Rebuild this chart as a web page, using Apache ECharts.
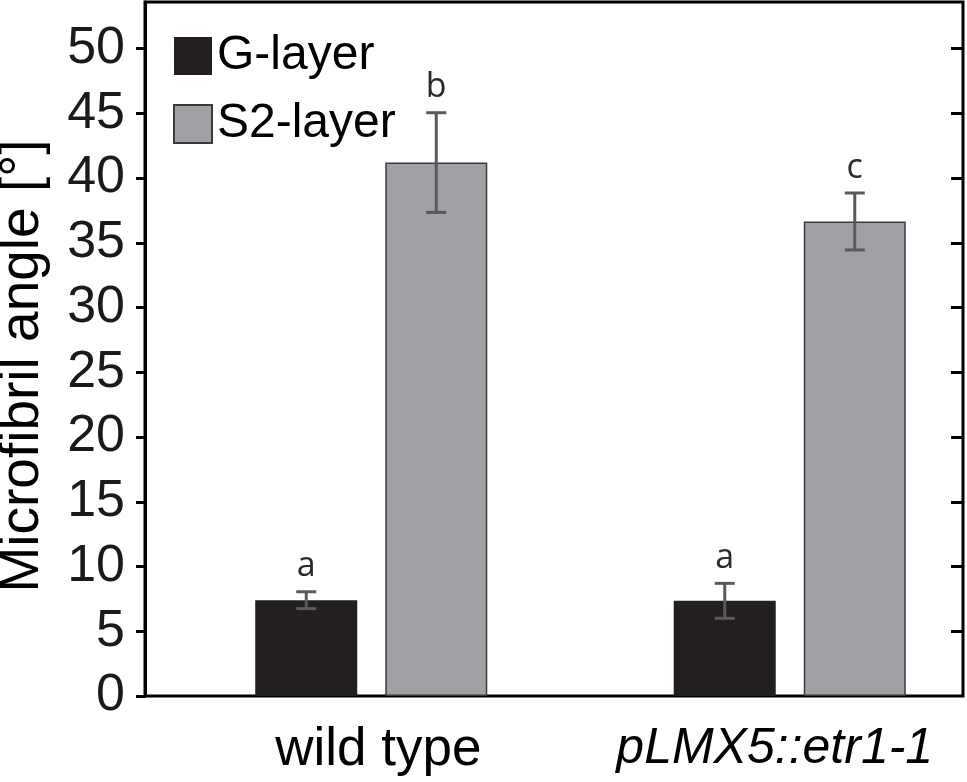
<!DOCTYPE html>
<html>
<head>
<meta charset="utf-8">
<script src="https://cdn.jsdelivr.net/npm/echarts@6/dist/echarts.min.js"></script>
<style>
  html, body { margin: 0; padding: 0; background: #fff; }
  #main { width: 967px; height: 782px; }
</style>
</head>
<body>
<div id="main"></div>
<script type="text/javascript">
  // data
  var categories = ['wild type', 'pLMX5::etr1-1'];
  var gMean = [7.4, 7.35];
  var gSd = [0.65, 1.35];
  var s2Mean = [41.2, 36.65];
  var s2Sd = [3.85, 2.2];
  var gLetters = ['a', 'a'];
  var s2Letters = ['b', 'c'];
  var yTicks = [0, 5, 10, 15, 20, 25, 30, 35, 40, 45, 50];

  var yMax = 53.6;
  var barW = 102, barGapPx = 28;
  var half = (barW + barGapPx) / 2;
  var font = 'Liberation Sans, Arial, sans-serif';

  var myChart = echarts.init(document.getElementById('main'));

  function errSeries(name, means, sds, letters, shift) {
    return {
      name: name + '-err',
      type: 'custom',
      xAxisIndex: 1,
      yAxisIndex: 2,
      z: 5,
      silent: true,
      data: means.map(function (m, i) { return [i, m, sds[i]]; }),
      renderItem: function (params, api) {
        var i = api.value(0), m = api.value(1), s = api.value(2);
        var top = api.coord([i, m + s]);
        var bot = api.coord([i, m - s]);
        var x = top[0] + shift;
        var st = { stroke: '#5a5a5a', lineWidth: 3 };
        return {
          type: 'group',
          children: [
            { type: 'line', shape: { x1: x, y1: top[1], x2: x, y2: bot[1] }, style: st },
            { type: 'line', shape: { x1: x - 10, y1: top[1], x2: x + 10, y2: top[1] }, style: st },
            { type: 'line', shape: { x1: x - 10, y1: bot[1], x2: x + 10, y2: bot[1] }, style: st },
            { type: 'text', x: x, y: top[1] - 8,
              style: { text: letters[params.dataIndex], fill: '#2a2a2a',
                font: '34px "Open Sans", sans-serif', align: 'center', verticalAlign: 'bottom' } }
          ]
        };
      }
    };
  }

  var option = {
    animation: false,
    backgroundColor: '#fff',
    grid: [
      { left: 145, right: 4, top: 2, bottom: 86, show: true, borderColor: '#000', borderWidth: 3,
        backgroundColor: 'transparent', outerBoundsMode: 'none', containLabel: false },
      { left: 162, right: -32, top: 2, bottom: 86, outerBoundsMode: 'none', containLabel: false }
    ],
    legend: {
      orient: 'vertical',
      left: 168,
      top: 27,
      itemWidth: 38,
      itemHeight: 38,
      itemGap: 20,
      icon: 'rect',
      data: ['G-layer', 'S2-layer'],
      textStyle: { fontFamily: font, fontSize: 48, color: '#000', padding: [0, 0, 0, 0] }
    },
    xAxis: [
      { type: 'value', gridIndex: 0, min: 0, max: 1, show: false },
      {
        type: 'category',
        gridIndex: 1,
        data: categories,
        axisLine: { show: false },
        axisTick: { show: false },
        axisLabel: {
          margin: 28,
          formatter: function (v, i) { return i === 1 ? '{it|' + v + '}' : '{n|' + v + '}'; },
          rich: {
            n: { fontFamily: font, fontSize: 53, color: '#000', padding: [0, 0, 0, 14] },
            it: { fontFamily: font, fontSize: 50, fontStyle: 'italic', color: '#000', padding: [0, 30, 0, 0] }
          }
        }
      }
    ],
    yAxis: [
      {
        type: 'value',
        gridIndex: 0,
        min: 0,
        max: yMax,
        interval: 5,
        splitLine: { show: false },
        axisLine: { show: true, lineStyle: { color: '#000', width: 3 } },
        axisTick: { show: true, length: 9, lineStyle: { color: '#000', width: 3 },
          customValues: yTicks },
        axisLabel: { margin: 20, fontFamily: font, fontSize: 52, color: '#1a1a1a',
          customValues: yTicks },
        name: 'Microfibril angle [°]',
        nameLocation: 'middle',
        nameGap: 95,
        nameTextStyle: { fontFamily: font, fontSize: 55, color: '#000', padding: [0, 34, 0, 0] }
      },
      {
        type: 'value',
        gridIndex: 0,
        min: 0,
        max: yMax,
        interval: 5,
        splitLine: { show: false },
        axisLine: { show: false },
        axisTick: { show: true, inside: true, length: 12, lineStyle: { color: '#000', width: 3 },
          customValues: yTicks.slice(1) },
        axisLabel: { show: false }
      },
      { type: 'value', gridIndex: 1, min: 0, max: yMax, show: false }
    ],
    series: [
      {
        name: 'G-layer',
        type: 'bar',
        xAxisIndex: 1,
        yAxisIndex: 2,
        barWidth: barW,
        barGap: (barGapPx / barW * 100).toFixed(1) + '%',
        data: gMean,
        itemStyle: { color: '#231f20', borderColor: '#231f20', borderWidth: 0 }
      },
      {
        name: 'S2-layer',
        type: 'bar',
        xAxisIndex: 1,
        yAxisIndex: 2,
        barWidth: barW,
        data: s2Mean,
        itemStyle: { color: '#a1a0a5', borderColor: '#3a3a3a', borderWidth: 1.5 }
      },
      errSeries('G-layer', gMean, gSd, gLetters, -half),
      errSeries('S2-layer', s2Mean, s2Sd, s2Letters, half)
    ]
  };

  myChart.setOption(option);
</script>
</body>
</html>
